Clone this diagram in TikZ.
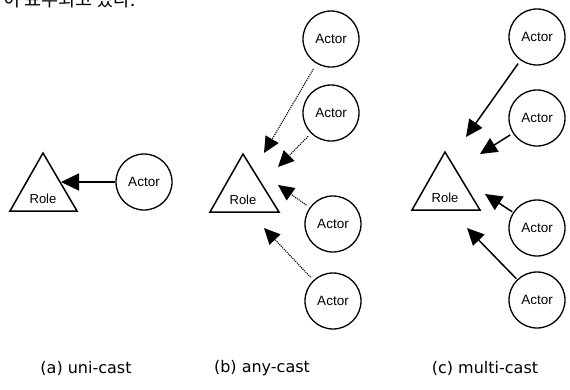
\documentclass[tikz,border=0pt]{standalone}
\usepackage{fontspec}
\setmainfont{Liberation Sans}
\newfontfamily\krfont{Noto Sans CJK KR}
\newfontfamily\capfont{DejaVu Sans}
\usetikzlibrary{arrows.meta}
\begin{document}
\begin{tikzpicture}[x=1pt,y=-1pt,
  role/.style={draw,line width=1.5pt,line join=miter},
  actor/.style={circle,draw,line width=1.3pt,minimum size=56pt,inner sep=0pt,font=\fontsize{13.5}{14}\selectfont},
  rolelabel/.style={font=\fontsize{13}{14}\selectfont},
  uni/.style={line width=1.4pt,-{Triangle[length=18pt,width=17pt]}},
  any/.style={line width=1.1pt,densely dotted,-{Triangle[length=16pt,width=15pt]}},
  multi/.style={line width=1.5pt,-{Triangle[length=17pt,width=16pt]}},
  caption/.style={font=\capfont\fontsize{16}{18}\selectfont}]
\useasboundingbox (0,0) rectangle (570,389);

% heading line, cut at the page edge
\begin{scope}
\clip (0,0) rectangle (570,389);
\node[anchor=base west,inner sep=0pt,font=\krfont\fontsize{18.5}{20}\selectfont] (head) at (3,6) {이 표주되고 있다.};
\end{scope}

% (a) uni-cast
\draw[role] (43,153) -- (77,211) -- (10,211) -- cycle;
\node[rolelabel] (ra) at (43,199) {Role};
\coordinate (ta) at (61,182);
\node[actor] (a1) at (144,182) {Actor};
\draw[uni] (a1) -- (ta);
\node[caption] (ca) at (86,368) {(a) uni-cast};

% (b) any-cast
\draw[role] (243,154) -- (279,212) -- (210,212) -- cycle;
\node[rolelabel] (rb) at (243,200) {Role};
\node[actor] (b1) at (331,39) {Actor};
\node[actor] (b2) at (331,113) {Actor};
\node[actor] (b3) at (333,224) {Actor};
\node[actor] (b4) at (333,301) {Actor};
\coordinate (tb1) at (264,153);
\coordinate (tb2) at (278,167);
\coordinate (tb3) at (278,185);
\coordinate (tb4) at (264,228);
\draw[any,shorten <=6pt] (b1) -- (tb1);
\draw[any,shorten <=4pt] (b2) -- (tb2);
\draw[any,shorten <=4pt] (b3) -- (tb3);
\draw[any,shorten <=4pt] (b4) -- (tb4);
\node[caption] (cb) at (262,368) {(b) any-cast};

% (c) multi-cast
\draw[role] (445,152) -- (480,210) -- (412,210) -- cycle;
\node[rolelabel] (rc) at (445,198) {Role};
\node[actor] (c1) at (537,37) {Actor};
\node[actor] (c2) at (537,118) {Actor};
\node[actor] (c3) at (537,228) {Actor};
\node[actor] (c4) at (537,300) {Actor};
\coordinate (tc1) at (466,137);
\coordinate (tc2) at (480,154);
\coordinate (tc3) at (485,194);
\coordinate (tc4) at (467,228);
\draw[multi,shorten <=4pt] (c1) -- (tc1);
\draw[multi,shorten <=3pt] (c2) -- (tc2);
\draw[multi,shorten <=1pt] (c3) -- (tc3);
\draw[multi,shorten <=1pt] (c4) -- (tc4);
\node[caption] (cc) at (485,368) {(c) multi-cast};
\end{tikzpicture}
\end{document}
